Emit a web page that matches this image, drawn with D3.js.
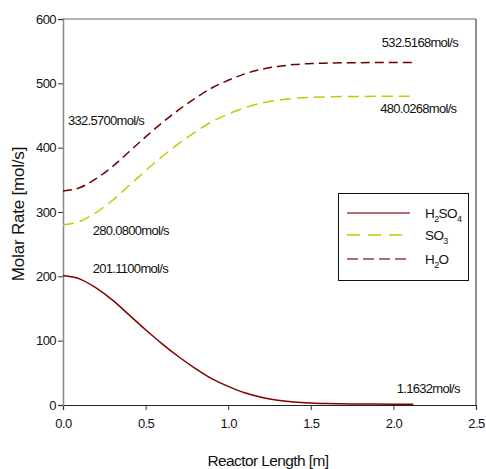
<!DOCTYPE html>
<html><head><meta charset="utf-8">
<script src="https://cdn.jsdelivr.net/npm/d3@7"></script>
<style>body{margin:0;background:#fff}svg{display:block;font-family:"Liberation Sans",Arial,sans-serif}</style>
</head><body>
<svg id="c" width="486" height="469"></svg>
<script>
const lengths = [0, 0.1, 0.2, 0.3, 0.4, 0.5, 0.6, 0.7, 0.8, 0.9, 1.0, 1.1, 1.2, 1.3, 1.4, 1.5, 1.6, 1.8, 2.0, 2.12];
const h2so4 = [201.11, 196, 182, 163, 140, 117, 95, 75, 57, 41, 29, 19, 12, 7.5, 4.5, 3, 2.2, 1.6, 1.3, 1.1632];
const so3 = [280.08, 285.2, 299.2, 318.2, 341.2, 364.2, 386.2, 406.2, 424.2, 440.2, 452.2, 462.2, 469.2, 473.7, 476.7, 478.2, 479.0, 479.6, 479.9, 480.0268];
const h2o = [332.57, 337.7, 351.7, 370.7, 393.7, 416.7, 438.7, 458.7, 476.7, 492.7, 504.7, 514.7, 521.7, 526.2, 529.2, 530.7, 531.5, 532.1, 532.4, 532.5168];
const xTicks = [0, 0.5, 1.0, 1.5, 2.0, 2.5];
const yTicks = [0, 100, 200, 300, 400, 500, 600];
const annotations = [
  {text: "332.5700mol/s", x: 0.03, y: 436},
  {text: "280.0800mol/s", x: 0.18, y: 265},
  {text: "201.1100mol/s", x: 0.18, y: 205},
  {text: "532.5168mol/s", x: 1.93, y: 556},
  {text: "480.0268mol/s", x: 1.92, y: 454},
  {text: "1.1632mol/s", x: 2.02, y: 18}
];

const svg = d3.select("#c");
const L = 63, R = 476, T = 19, B = 405;
const x = d3.scaleLinear().domain([0, 2.5]).range([L, R]);
const y = d3.scaleLinear().domain([0, 600]).range([B, T]);

// frame
svg.append("line").attr("x1", L).attr("x2", R).attr("y1", T).attr("y2", T).attr("stroke", "#666").attr("stroke-width", 1.2);
svg.append("line").attr("x1", R).attr("x2", R).attr("y1", T).attr("y2", B).attr("stroke", "#444").attr("stroke-width", 1.2);

const gx = svg.append("g").attr("transform", `translate(0,${B})`)
  .call(d3.axisBottom(x).tickValues(xTicks).tickFormat(d3.format(".1f")).tickSize(5).tickPadding(6));
const gy = svg.append("g").attr("transform", `translate(${L},0)`)
  .call(d3.axisLeft(y).tickValues(yTicks).tickSize(5).tickPadding(2));
gx.select(".domain").attr("stroke", "#222").attr("stroke-width", 1.2);
gy.select(".domain").attr("stroke", "#888").attr("stroke-width", 1.5);
[gx, gy].forEach(g => {
  g.selectAll(".tick line").attr("stroke", "#333");
  g.selectAll(".tick text").attr("font-size", 13).attr("fill", "#111").style("letter-spacing", "-0.6px")
    .attr("font-family", "Liberation Sans, Arial, sans-serif");
});
gx.selectAll(".tick text").attr("dy", "0.9em");

const line = d3.line().curve(d3.curveMonotoneX);
const series = [
  {name: "H2SO4", vals: h2so4, color: "#800000", dash: null, w: 1.5},
  {name: "SO3", vals: so3, color: "#c8c800", dash: "11,6", w: 1.5},
  {name: "H2O", vals: h2o, color: "#6e0000", dash: "9,5", w: 1.5}
];
series.forEach(s => {
  svg.append("path").attr("d", line(lengths.map((l, i) => [x(l), y(s.vals[i])])))
    .attr("fill", "none").attr("stroke", s.color).attr("stroke-width", s.w)
    .attr("stroke-dasharray", s.dash);
});

annotations.forEach(a => {
  svg.append("text").attr("x", x(a.x)).attr("y", y(a.y)).text(a.text)
    .attr("font-size", 13).attr("fill", "#111").style("letter-spacing", "-0.7px");
});

// legend
const lg = svg.append("g");
lg.append("rect").attr("x", 338.5).attr("y", 193.5).attr("width", 130).attr("height", 87)
  .attr("fill", "#fff").attr("stroke", "#111").attr("stroke-width", 1);
const legY = [213, 235, 259];
const legLabels = [["H", "2", "SO", "4"], ["SO", "3"], ["H", "2", "O"]];
series.forEach((s, i) => {
  lg.append("line").attr("x1", 347).attr("x2", 410).attr("y1", legY[i]).attr("y2", legY[i])
    .attr("stroke", s.color).attr("stroke-width", 1.5).attr("stroke-dasharray", s.name === "H2O" ? "11,5" : (s.dash ? "13,8" : null))
    .attr("opacity", s.name === "SO3" ? 1 : 0.75);
  const t = lg.append("text").attr("x", 425).attr("y", legY[i] + 5).attr("font-size", 13.5).attr("fill", "#111")
    .style("letter-spacing", "-0.6px");
  legLabels[i].forEach((p, j) => {
    const sub = /^\d$/.test(p);
    t.append("tspan").text(p).attr("font-size", sub ? 9 : 13.5)
      .attr("dy", sub ? 4 : (j > 0 ? -4 : 0));
  });
});

// axis titles
svg.append("text").attr("transform", "translate(24,214) rotate(-90)").attr("text-anchor", "middle")
  .attr("font-size", 17).attr("fill", "#111").style("letter-spacing", "-0.2px").text("Molar Rate [mol/s]");
svg.append("text").attr("x", 268).attr("y", 466).attr("text-anchor", "middle")
  .attr("font-size", 15.5).attr("fill", "#111").style("letter-spacing", "-0.6px").text("Reactor Length [m]");
</script>
</body></html>
